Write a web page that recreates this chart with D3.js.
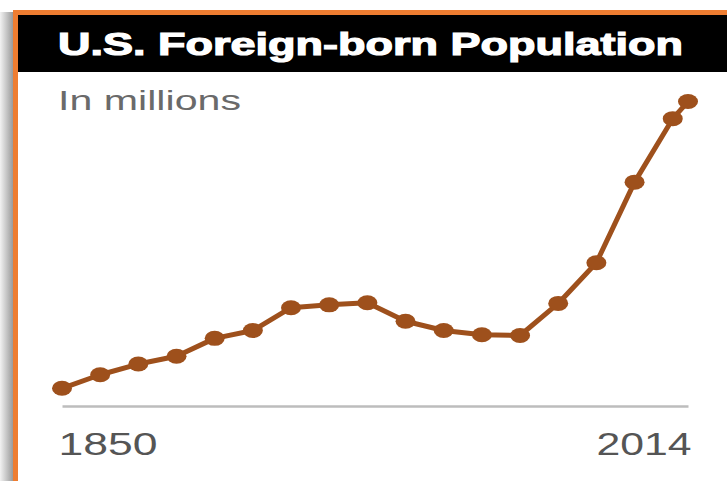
<!DOCTYPE html>
<html>
<head>
<meta charset="utf-8">
<script src="https://cdn.jsdelivr.net/npm/d3@7"></script>
<style>
  html, body { margin: 0; padding: 0; background: #fff; }
  svg { display: block; }
</style>
</head>
<body>
<svg id="chart" width="727" height="481"></svg>
<script>
const titleText = "U.S. Foreign-born Population";
const subtitleText = "In millions";
const years = [1850, 1860, 1870, 1880, 1890, 1900, 1910, 1920, 1930, 1940, 1950, 1960, 1970, 1980, 1990, 2000, 2010, 2014];
const population = [2.2, 4.1, 5.6, 6.7, 9.2, 10.3, 13.5, 13.9, 14.2, 11.6, 10.3, 9.7, 9.6, 14.1, 19.8, 31.1, 40.0, 42.4];
const tickYears = [1850, 2014];

const svg = d3.select("#chart");
const W = 727, H = 481;

// left shadow
const defs = svg.append("defs");
const grad = defs.append("linearGradient").attr("id", "shadow").attr("x1", "0").attr("x2", "1");
grad.append("stop").attr("offset", "0").attr("stop-color", "#f2f2f2");
grad.append("stop").attr("offset", "1").attr("stop-color", "#9a9a9a");
svg.append("rect").attr("x", 0).attr("y", 12).attr("width", 13).attr("height", H - 12).attr("fill", "url(#shadow)");

// orange frame (extends beyond the viewport right/bottom)
svg.append("rect")
  .attr("x", 15.5).attr("y", 12.5).attr("width", W + 20).attr("height", H + 20)
  .attr("fill", "#fff").attr("stroke", "#ee7d31").attr("stroke-width", 5);

// black title bar
svg.append("rect").attr("x", 18).attr("y", 15).attr("width", W - 18).attr("height", 57).attr("fill", "#000");

svg.append("text")
  .attr("x", 58).attr("y", 55)
  .attr("fill", "#fff")
  .attr("stroke", "#fff")
  .attr("stroke-width", 1.2)
  .attr("font-family", "'Liberation Sans', Arial, sans-serif")
  .attr("font-weight", "bold")
  .attr("font-size", 32)
  .attr("textLength", 625)
  .attr("lengthAdjust", "spacingAndGlyphs")
  .text(titleText);

svg.append("text")
  .attr("x", 58).attr("y", 110)
  .attr("fill", "#6a6a6a")
  .attr("font-family", "'Liberation Sans', Arial, sans-serif")
  .attr("font-size", 28)
  .attr("textLength", 183)
  .attr("lengthAdjust", "spacingAndGlyphs")
  .text(subtitleText);

const x = d3.scaleLinear().domain([1850, 2014]).range([62, 688]);
const y = d3.scaleLinear().domain([0, 45]).range([404, 83]);

// axis
const axis = svg.append("g")
  .attr("transform", "translate(0,406)")
  .call(d3.axisBottom(x).tickValues(tickYears).tickSize(0).tickFormat(d3.format("d")));
axis.select(".domain").attr("stroke", "#bdbdbd").attr("stroke-width", 2.5);
axis.selectAll(".tick text")
  .attr("y", 0).attr("dy", 0)
  .attr("transform", "translate(0,49)")
  .attr("fill", "#555")
  .attr("font-family", "'Liberation Sans', Arial, sans-serif")
  .attr("font-size", 32)
  .attr("lengthAdjust", "spacingAndGlyphs")
  .attr("text-anchor", d => d === 1850 ? "start" : "end")
  .attr("x", d => d === 1850 ? -4 : 3)
  .attr("textLength", d => d === 1850 ? 99 : 95);

const data = years.map((yr, i) => ({ year: yr, value: population[i] }));
const color = "#9e501c";

const line = d3.line().x(d => x(d.year)).y(d => y(d.value));
svg.append("path")
  .datum(data)
  .attr("d", line)
  .attr("fill", "none")
  .attr("stroke", color)
  .attr("stroke-width", 5)
  .attr("stroke-linejoin", "round");

svg.append("g").selectAll("ellipse")
  .data(data)
  .join("ellipse")
  .attr("cx", d => x(d.year))
  .attr("cy", d => y(d.value))
  .attr("rx", 10)
  .attr("ry", 7.5)
  .attr("fill", color);
</script>
</body>
</html>
